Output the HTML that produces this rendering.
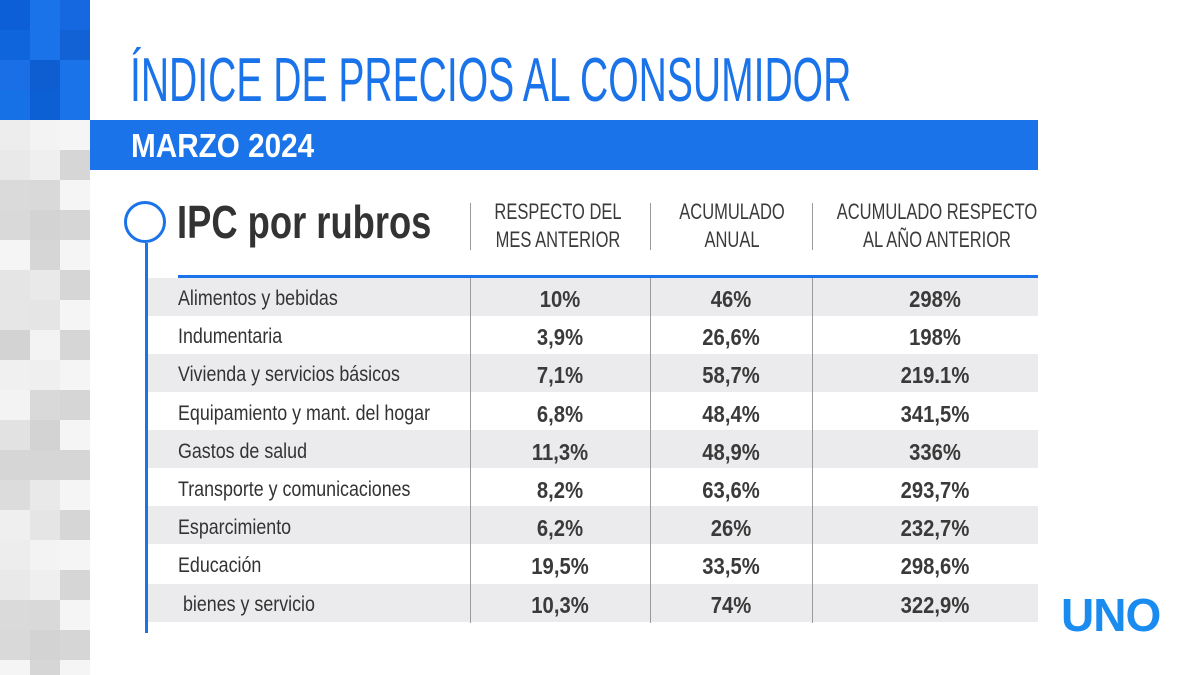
<!DOCTYPE html>
<html><head><meta charset="utf-8"><style>
*{margin:0;padding:0;box-sizing:border-box}
html,body{width:1200px;height:675px;overflow:hidden}
body{background:#fff;position:relative;font-family:"Liberation Sans",sans-serif}
.a{position:absolute}
.sq{position:absolute;width:30px;height:30px}
.c{display:inline-block;transform-origin:left center;white-space:nowrap}
.lbl{position:absolute;left:178px;font-size:21px;color:#333;transform:scaleX(.85);transform-origin:left center;white-space:nowrap;line-height:38px}
.v{position:absolute;font-size:23px;font-weight:bold;color:#3a3a3a;text-align:center;line-height:38px;transform:scaleX(.88)}
.band{position:absolute;left:148px;width:890px;height:38px;background:#ebebed}
.sep{position:absolute;width:1px;background:#999}
.hd{position:absolute;font-size:22px;color:#3a3a3a;text-align:center;line-height:28px;transform:scaleX(.75);white-space:nowrap}
</style></head><body>
<div id="m"></div>
<script>
var b=['#0c5fd6','#1a73e8','#1668e0','#0f66dc','#1a73e8','#1262d6','#1a6fe6','#0e5ed2','#1a73e8','#1670e6','#0d5fd4','#1a73e8'];
var g=['#ededed','#d9d9d9','#e6e6e6','#f3f3f3','#dcdcdc','#e9e9e9','#f5f5f5','#d3d3d3','#e2e2e2','#efefef','#dadada','#e5e5e5','#f0f0f0','#d6d6d6'];
var h='';
for(var r=0;r<4;r++)for(var c=0;c<3;c++)h+='<div class="sq" style="left:'+c*30+'px;top:'+r*30+'px;background:'+b[(r*3+c)%12]+'"></div>';
for(var r=0;r<19;r++)for(var c=0;c<3;c++)h+='<div class="sq" style="left:'+c*30+'px;top:'+(120+r*30)+'px;background:'+g[(r*5+c*3+r*c)%14]+'"></div>';
document.getElementById('m').innerHTML=h;
</script>
<div class="a" style="left:130px;top:48px;height:66px;line-height:66px;font-size:62px;color:#1a73e8"><span class="c" style="transform:scaleX(.63)">ÍNDICE DE PRECIOS AL CONSUMIDOR</span></div>
<div class="a" style="left:90px;top:120px;width:948px;height:50px;background:#1a73e8"></div>
<div class="a" style="left:131px;top:122px;line-height:48px;font-size:33px;font-weight:bold;color:#fff"><span class="c" style="transform:scaleX(.9)">MARZO 2024</span></div>
<div class="a" style="left:124px;top:201px;width:42px;height:42px;border:3px solid #1a73e8;border-radius:50%"></div>
<div class="a" style="left:145px;top:243px;width:3px;height:390px;background:#1a73e8"></div>
<div class="a" style="left:177px;top:196px;line-height:52px;font-size:46px;font-weight:bold;color:#333"><span class="c" style="transform:scaleX(.79)">IPC por rubros</span></div>
<div class="sep" style="left:470px;top:203px;height:47px"></div>
<div class="sep" style="left:650px;top:203px;height:47px"></div>
<div class="sep" style="left:812px;top:203px;height:47px"></div>
<div class="hd" style="left:458px;top:198px;width:200px">RESPECTO DEL<br>MES ANTERIOR</div>
<div class="hd" style="left:627px;top:198px;width:210px">ACUMULADO<br>ANUAL</div>
<div class="hd" style="left:787px;top:198px;width:300px">ACUMULADO RESPECTO<br>AL AÑO ANTERIOR</div>
<div class="a" style="left:178px;top:275px;width:860px;height:3px;background:#1a73e8"></div>
<div class="band" style="top:278px"></div>
<div class="band" style="top:354px"></div>
<div class="band" style="top:430px"></div>
<div class="band" style="top:506px"></div>
<div class="band" style="top:584px"></div>
<div class="sep" style="left:470px;top:278px;height:345px"></div>
<div class="sep" style="left:650px;top:278px;height:345px"></div>
<div class="sep" style="left:812px;top:278px;height:345px"></div>
<div id="rows"></div>
<script>
var d=[['Alimentos y bebidas','10%','46%','298%'],['Indumentaria','3,9%','26,6%','198%'],['Vivienda y servicios básicos','7,1%','58,7%','219.1%'],['Equipamiento y mant. del hogar','6,8%','48,4%','341,5%'],['Gastos de salud','11,3%','48,9%','336%'],['Transporte y comunicaciones','8,2%','63,6%','293,7%'],['Esparcimiento','6,2%','26%','232,7%'],['Educación','19,5%','33,5%','298,6%'],['&nbsp;bienes y servicio','10,3%','74%','322,9%']];
var h='';
for(var i=0;i<9;i++){var t=280+i*38.2;
h+='<div class="lbl" style="top:'+t+'px">'+d[i][0]+'</div>';
h+='<div class="v" style="left:470px;width:180px;top:'+t+'px">'+d[i][1]+'</div>';
h+='<div class="v" style="left:650px;width:162px;top:'+t+'px">'+d[i][2]+'</div>';
h+='<div class="v" style="left:835px;width:200px;top:'+t+'px">'+d[i][3]+'</div>';}
document.getElementById('rows').innerHTML=h;
</script>
<div class="a" style="left:1061px;top:590px;line-height:50px;font-size:46px;font-weight:bold;color:#1a8cf0;letter-spacing:-1px"><span class="c">UNO</span></div>
</body></html>
